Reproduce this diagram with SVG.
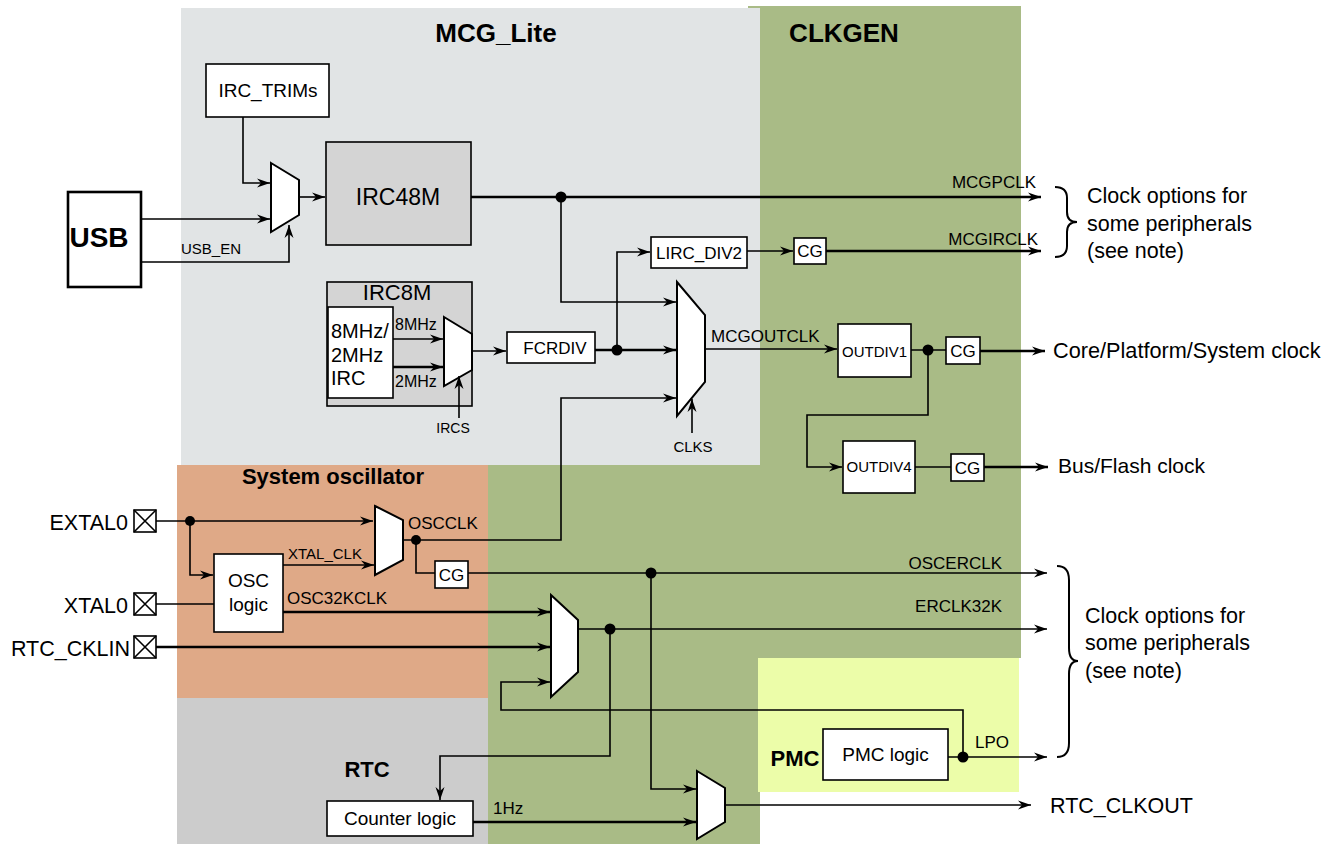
<svg xmlns="http://www.w3.org/2000/svg" width="1335" height="844" viewBox="0 0 1335 844">
<style>
text{font-family:"Liberation Sans",Arial,sans-serif;fill:#000}
.b{font-weight:bold}
.box{fill:#fff;stroke:#000;stroke-width:1.6}
.gbox{fill:#d4d4d4;stroke:#000;stroke-width:1.6}
.mux{fill:#fff;stroke:#000;stroke-width:2}
.w{fill:none;stroke:#000;stroke-width:1.6}
.t{fill:none;stroke:#000;stroke-width:2.6}
.a{marker-end:url(#ah)}
.dot{fill:#000}
.brace{fill:none;stroke:#000;stroke-width:2}
</style>
<defs>
<marker id="ah" markerUnits="userSpaceOnUse" markerWidth="14" markerHeight="10" refX="13" refY="5" orient="auto">
<path d="M0,0.5 L13,5 L0,9.5 L4,5 z" fill="#000"/>
</marker>
</defs>

<g id="regions">
<rect x="748" y="6" width="273" height="652" fill="#a9bb86"/>
<rect x="488" y="465" width="272" height="379" fill="#a9bb86"/>
<rect x="181" y="8" width="579" height="457" fill="#e1e4e5"/>
<rect x="177" y="465" width="311" height="233" fill="#dfa987"/>
<rect x="177" y="698" width="311" height="146" fill="#cccccc"/>
<rect x="758" y="658" width="261" height="134" fill="#ecfda9"/>
<text x="496" y="42" font-size="26" class="b" text-anchor="middle">MCG_Lite</text>
<text x="844" y="42" font-size="26" class="b" text-anchor="middle">CLKGEN</text>
<text x="333" y="484" font-size="22" class="b" text-anchor="middle">System oscillator</text>
<text x="367" y="777" font-size="22" class="b" text-anchor="middle">RTC</text>
<text x="795" y="766" font-size="22" class="b" text-anchor="middle">PMC</text>
</g>

<g id="usb">
<rect x="68" y="192" width="73" height="95" fill="#fff" stroke="#000" stroke-width="2.6"/>
<text x="99" y="247" font-size="28" class="b" text-anchor="middle">USB</text>
</g>
<g id="irc_trims">
<rect class="box" x="206" y="64" width="123" height="53" stroke-width="2.4"/>
<text x="268" y="97" font-size="19" text-anchor="middle">IRC_TRIMs</text>
</g>
<g id="mux_irc48">
<polygon class="mux" points="271,163 299,180 299,215 271,232"/>
</g>
<g id="irc48m">
<rect class="gbox" x="326" y="142" width="145" height="103"/>
<text x="398" y="205" font-size="23" text-anchor="middle">IRC48M</text>
</g>
<g id="irc8m">
<rect class="gbox" x="327" y="282" width="145" height="124"/>
<text x="397" y="300" font-size="22" text-anchor="middle">IRC8M</text>
<rect class="box" x="328" y="307" width="65" height="91"/>
<text x="331" y="338" font-size="20">8MHz/</text>
<text x="331" y="362" font-size="20">2MHz</text>
<text x="331" y="385" font-size="20">IRC</text>
<polygon class="mux" points="444,317 472,334 472,370 444,386"/>
</g>
<g id="fcrdiv">
<rect class="box" x="507" y="332" width="88" height="31"/>
<text x="555" y="354" font-size="17" text-anchor="middle">FCRDIV</text>
</g>
<g id="lirc_div2">
<rect class="box" x="651" y="237" width="96" height="31"/>
<text x="699" y="259" font-size="17" text-anchor="middle">LIRC_DIV2</text>
</g>
<g id="cg_mcgirclk">
<rect class="box" x="794" y="238" width="32" height="26"/>
<text x="810" y="257" font-size="17" text-anchor="middle">CG</text>
</g>
<g id="mux_mcgout">
<polygon class="mux" points="677,282 705,315 705,382 677,416"/>
</g>
<g id="outdiv1">
<rect class="box" x="838" y="324" width="73" height="53"/>
<text x="874.5" y="357" font-size="15" text-anchor="middle">OUTDIV1</text>
</g>
<g id="cg_core">
<rect class="box" x="946" y="337" width="34" height="27"/>
<text x="963" y="357" font-size="17" text-anchor="middle">CG</text>
</g>
<g id="outdiv4">
<rect class="box" x="843" y="441" width="72" height="52"/>
<text x="879" y="472" font-size="15" text-anchor="middle">OUTDIV4</text>
</g>
<g id="cg_bus">
<rect class="box" x="951" y="454" width="33" height="27"/>
<text x="967.5" y="474" font-size="17" text-anchor="middle">CG</text>
</g>
<g id="outputs">
<text x="1053" y="358" font-size="21.7">Core/Platform/System clock</text>
<text x="1058" y="473" font-size="21">Bus/Flash clock</text>
<text x="1050" y="813" font-size="21.5">RTC_CLKOUT</text>
<path class="brace" d="M1055,187 Q1067,187 1067,198 L1067,212 Q1067,222 1077,222 Q1067,222 1067,232 L1067,246 Q1067,257 1055,257"/>
<text x="1087" y="203" font-size="21.5">Clock options for</text>
<text x="1087" y="231" font-size="21.5">some peripherals</text>
<text x="1087" y="258" font-size="21.5">(see note)</text>
<path class="brace" d="M1057,566 Q1069,566 1069,580 L1069,648 Q1069,661 1078,661 Q1069,661 1069,674 L1069,743 Q1069,757 1057,757"/>
<text x="1085" y="623" font-size="21.5">Clock options for</text>
<text x="1085" y="650" font-size="21.5">some peripherals</text>
<text x="1085" y="678" font-size="21.5">(see note)</text>
</g>
<g id="pin_extal0">
<text x="128" y="530" font-size="21.5" text-anchor="end">EXTAL0</text>
<rect class="box" x="134" y="510" width="22" height="22"/>
<path class="w" d="M134,510 L156,532 M156,510 L134,532"/>
</g>
<g id="pin_xtal0">
<text x="128" y="613" font-size="21.5" text-anchor="end">XTAL0</text>
<rect class="box" x="134" y="593" width="22" height="22"/>
<path class="w" d="M134,593 L156,615 M156,593 L134,615"/>
</g>
<g id="pin_rtc_cklin">
<text x="130" y="656" font-size="21.5" text-anchor="end">RTC_CKLIN</text>
<rect class="box" x="134" y="636" width="22" height="22"/>
<path class="w" d="M134,636 L156,658 M156,636 L134,658"/>
</g>
<g id="osc_logic">
<rect class="box" x="214" y="554" width="69" height="78"/>
<text x="248.5" y="587" font-size="19" text-anchor="middle">OSC</text>
<text x="248.5" y="611" font-size="19" text-anchor="middle">logic</text>
</g>
<g id="mux_osc">
<polygon class="mux" points="375,506 403,520 403,560 375,575"/>
</g>
<g id="cg_osc">
<rect class="box" x="435" y="561" width="33" height="27"/>
<text x="451.5" y="581" font-size="17" text-anchor="middle">CG</text>
</g>
<g id="mux_erclk">
<polygon class="mux" points="551,595 578,620 578,672 551,697"/>
</g>
<g id="counter_logic">
<rect class="box" x="327" y="801" width="146" height="35"/>
<text x="400" y="825" font-size="19" text-anchor="middle">Counter logic</text>
</g>
<g id="mux_rtcout">
<polygon class="mux" points="697,771 725,788 725,822 697,839"/>
</g>
<g id="pmc_logic">
<rect class="box" x="823" y="729" width="125" height="51"/>
<text x="885.5" y="761" font-size="19" text-anchor="middle">PMC logic</text>
</g>

<g id="connectors">
<path class="w a" d="M243,117 V183 H270"/>
<path class="w a" d="M141,219 H270"/>
<path class="w a" d="M141,262 H289 V225"/>
<path class="w a" d="M299,197 H325"/>
<path class="t a" d="M471,197 H1041"/>
<path class="w a" d="M561,197 V302 H676"/>
<path class="w a" d="M393,339 H443"/>
<path class="t a" d="M393,367 H443"/>
<path class="w a" d="M459,418 V376"/>
<path class="w a" d="M472,351 H506"/>
<path class="t a" d="M595,350 H676"/>
<path class="w a" d="M617,350 V252 H650"/>
<path class="w a" d="M747,251 H793"/>
<path class="t a" d="M826,251 H1041"/>
<path class="w a" d="M403,540 H561 V398 H676"/>
<path class="w a" d="M692,433 V399"/>
<path class="w a" d="M705,349 H837"/>
<path class="w" d="M911,350 H946"/>
<path class="t a" d="M980,351 H1045"/>
<path class="w a" d="M928,350 V415 H807 V467 H842"/>
<path class="w" d="M915,467 H951"/>
<path class="t a" d="M984,467 H1048"/>
<path class="w a" d="M156,521 H373"/>
<path class="w a" d="M190,521 V575 H213"/>
<path class="w a" d="M283,565 H374"/>
<path class="w" d="M156,604 H214"/>
<path class="t a" d="M283,612 H550"/>
<path class="t a" d="M156,647 H550"/>
<path class="w" d="M416,540 V573 H435"/>
<path class="w a" d="M468,573 H1047"/>
<path class="w a" d="M651,573 V789 H696"/>
<path class="w a" d="M578,629 H1047"/>
<path class="w a" d="M610,629 V756 H440 V800"/>
<path class="w a" d="M963,757 V710 H501 V682 H550"/>
<path class="t a" d="M473,822 H696"/>
<path class="w a" d="M725,805 H1031"/>
<path class="w a" d="M948,757 H1047"/>
<circle class="dot" cx="561" cy="197" r="5.5"/>
<circle class="dot" cx="617" cy="350" r="5.5"/>
<circle class="dot" cx="928" cy="350" r="5.5"/>
<circle class="dot" cx="190" cy="521" r="5"/>
<circle class="dot" cx="416" cy="540" r="5"/>
<circle class="dot" cx="651" cy="573" r="5.5"/>
<circle class="dot" cx="610" cy="629" r="5.5"/>
<circle class="dot" cx="963" cy="757" r="5.5"/>
<text x="181" y="254" font-size="15">USB_EN</text>
<text x="395" y="330" font-size="16">8MHz</text>
<text x="395" y="387" font-size="16">2MHz</text>
<text x="453" y="433" font-size="14" text-anchor="middle">IRCS</text>
<text x="693" y="452" font-size="15" text-anchor="middle">CLKS</text>
<text x="1036" y="188" font-size="17" text-anchor="end">MCGPCLK</text>
<text x="1038" y="245" font-size="17" text-anchor="end">MCGIRCLK</text>
<text x="711" y="342" font-size="17">MCGOUTCLK</text>
<text x="288" y="559" font-size="15">XTAL_CLK</text>
<text x="408" y="529" font-size="17">OSCCLK</text>
<text x="287" y="604" font-size="17">OSC32KCLK</text>
<text x="1002" y="569" font-size="17" text-anchor="end">OSCERCLK</text>
<text x="1002" y="612" font-size="17" text-anchor="end">ERCLK32K</text>
<text x="975" y="748" font-size="17">LPO</text>
<text x="493" y="814" font-size="17">1Hz</text>
</g>
</svg>
